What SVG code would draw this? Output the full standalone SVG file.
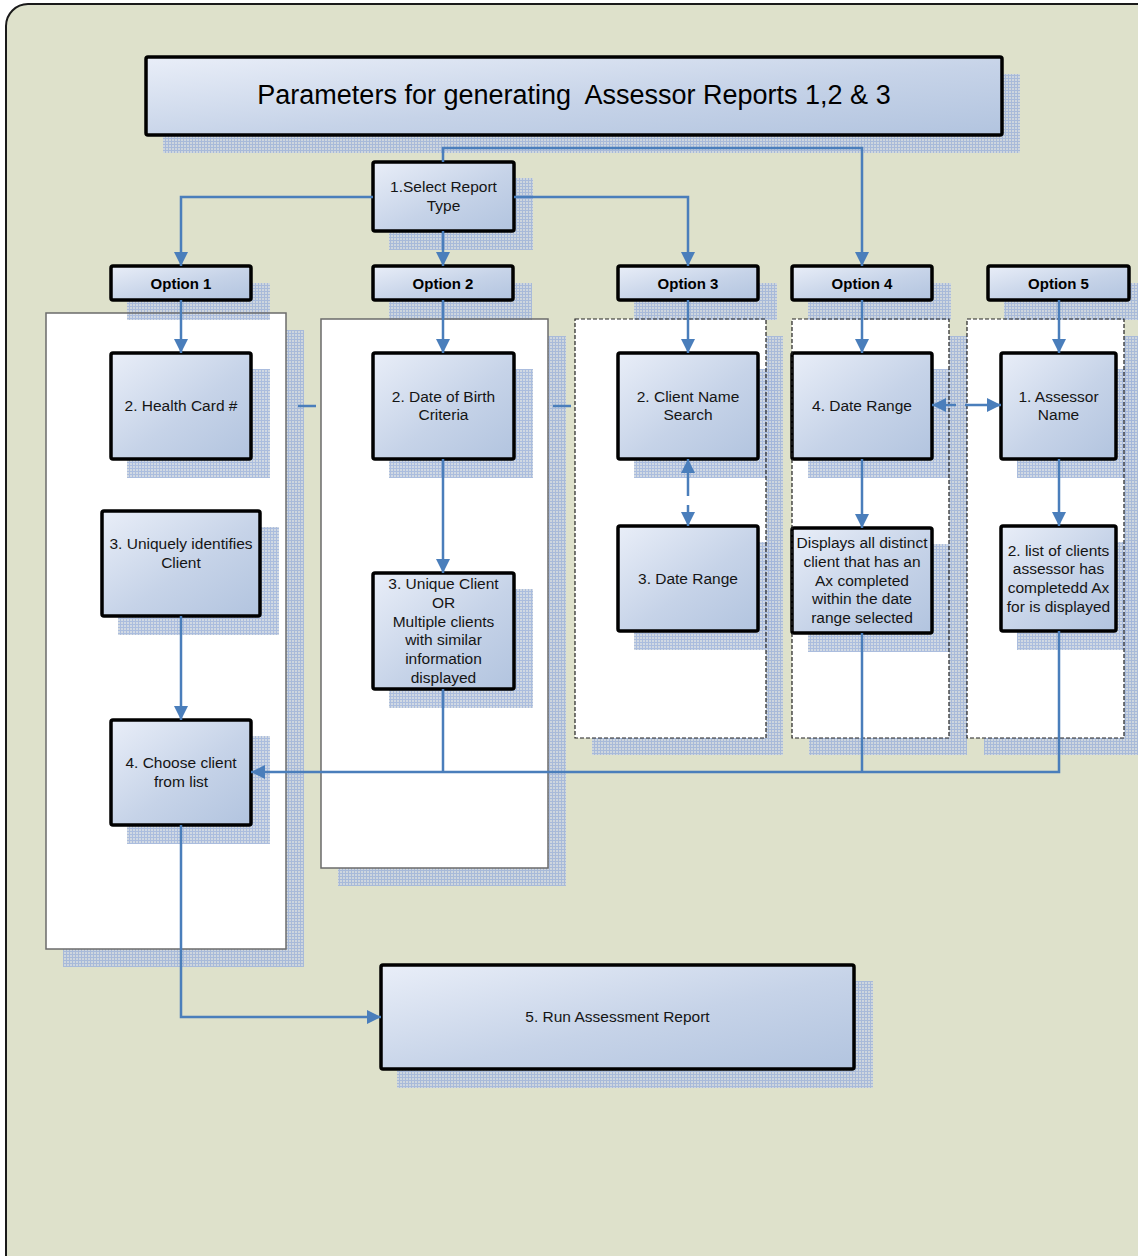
<svg xmlns="http://www.w3.org/2000/svg" width="1138" height="1256" viewBox="0 0 1138 1256">
<defs>
<linearGradient id="nodeGrad" x1="0" y1="0" x2="1" y2="1">
<stop offset="0" stop-color="#e9eef8"/>
<stop offset="0.55" stop-color="#c6d3e8"/>
<stop offset="1" stop-color="#b2c4df"/>
</linearGradient>
<pattern id="mesh" width="3" height="3" patternUnits="userSpaceOnUse">
<rect width="3" height="3" fill="#ccd5e0"/>
<path d="M0,0.5H3M0.5,0V3" stroke="#a2b6da" stroke-width="1"/>
</pattern>
<marker id="arr" markerUnits="userSpaceOnUse" markerWidth="14" markerHeight="14" refX="14" refY="7" orient="auto-start-reverse">
<path d="M0,0 L14,7 L0,14 z" fill="#4a7ebb"/>
</marker>
<style>
.node{fill:url(#nodeGrad);stroke:#000;stroke-width:3.5;}
.shadow{fill:url(#mesh);opacity:0.9;}
.pfill{fill:#fff;}
.panel{fill:none;stroke:#6b6b6b;stroke-width:1.5;}
.dpanel{fill:none;stroke:#222;stroke-width:1.2;stroke-dasharray:4 2;}
.t{font-family:"Liberation Sans",Arial,sans-serif;font-size:15.5px;fill:#151515;text-anchor:middle;}
.opt{font-family:"Liberation Sans",Arial,sans-serif;font-size:15px;font-weight:bold;fill:#000;text-anchor:middle;}
.title{font-family:"Liberation Sans",Arial,sans-serif;font-size:27px;fill:#000;text-anchor:middle;white-space:pre;}
.c{fill:none;stroke:#4a7ebb;stroke-width:2.5;}
</style>
</defs>

<g id="background">
<rect x="6" y="4" width="1160" height="1280" rx="22" fill="#dee1cb" stroke="#1a1a1a" stroke-width="2"/>
</g>

<g id="panels">
<rect class="shadow" x="63" y="330" width="241" height="637"/>
<rect class="pfill" x="46" y="313" width="240" height="636"/>
<rect class="shadow" x="338" y="336" width="228" height="550"/>
<rect class="pfill" x="321" y="319" width="227" height="549"/>
<rect class="shadow" x="592" y="336" width="191" height="419"/>
<rect class="pfill" x="575" y="319" width="191" height="419"/>
<rect class="shadow" x="809" y="336" width="158" height="419"/>
<rect class="pfill" x="792" y="319" width="157" height="419"/>
<rect class="shadow" x="984" y="336" width="160" height="419"/>
<rect class="pfill" x="967" y="319" width="157" height="419"/>
</g>

<g id="title">
<rect class="shadow" x="163" y="74" width="857" height="79"/>
<rect class="node" x="146" y="57" width="856" height="78" rx="2"/>
<text class="title" x="574" y="104" xml:space="preserve">Parameters for generating  Assessor Reports 1,2 &amp; 3</text>
</g>

<g id="select-report">
<rect class="shadow" x="389" y="178" width="144" height="72"/>
<rect class="node" x="373" y="162" width="141" height="69" rx="2"/>
<text class="t" x="443.5" y="191.5">1.Select Report</text>
<text class="t" x="443.5" y="210.5">Type</text>
</g>

<g id="option1">
<rect class="shadow" x="127" y="283" width="143" height="37"/>
<rect class="node" x="111" y="266" width="140" height="34" rx="2"/>
<text class="opt" x="181" y="288.5">Option 1</text>
</g>
<g id="option2">
<rect class="shadow" x="389" y="283" width="143" height="37"/>
<rect class="node" x="373" y="266" width="140" height="34" rx="2"/>
<text class="opt" x="443" y="288.5">Option 2</text>
</g>
<g id="option3">
<rect class="shadow" x="634" y="283" width="143" height="37"/>
<rect class="node" x="618" y="266" width="140" height="34" rx="2"/>
<text class="opt" x="688" y="288.5">Option 3</text>
</g>
<g id="option4">
<rect class="shadow" x="808" y="283" width="143" height="37"/>
<rect class="node" x="792" y="266" width="140" height="34" rx="2"/>
<text class="opt" x="862" y="288.5">Option 4</text>
</g>
<g id="option5">
<rect class="shadow" x="1004" y="283" width="144" height="37"/>
<rect class="node" x="988" y="266" width="141" height="34" rx="2"/>
<text class="opt" x="1058.5" y="288.5">Option 5</text>
</g>

<g id="health-card">
<rect class="shadow" x="127" y="369" width="143" height="109"/>
<rect class="node" x="111" y="353" width="140" height="106" rx="2"/>
<text class="t" x="181" y="410.5">2. Health Card #</text>
</g>
<g id="uniquely-identifies">
<rect class="shadow" x="118" y="527" width="161" height="108"/>
<rect class="node" x="102" y="511" width="158" height="105" rx="2"/>
<text class="t" x="181" y="548.5">3. Uniquely identifies</text>
<text class="t" x="181" y="567.5">Client</text>
</g>
<g id="choose-client">
<rect class="shadow" x="127" y="736" width="143" height="108"/>
<rect class="node" x="111" y="720" width="140" height="105" rx="2"/>
<text class="t" x="181" y="767.5">4. Choose client</text>
<text class="t" x="181" y="786.5">from list</text>
</g>

<g id="date-of-birth">
<rect class="shadow" x="389" y="369" width="144" height="109"/>
<rect class="node" x="373" y="353" width="141" height="106" rx="2"/>
<text class="t" x="443.5" y="401.5">2. Date of Birth</text>
<text class="t" x="443.5" y="419.5">Criteria</text>
</g>
<g id="unique-client">
<rect class="shadow" x="389" y="589" width="144" height="119"/>
<rect class="node" x="373" y="573" width="141" height="116" rx="2"/>
<text class="t" x="443.5" y="589">3. Unique Client</text>
<text class="t" x="443.5" y="607.5">OR</text>
<text class="t" x="443.5" y="626.5">Multiple clients</text>
<text class="t" x="443.5" y="644.5">with similar</text>
<text class="t" x="443.5" y="663.5">information</text>
<text class="t" x="443.5" y="682.5">displayed</text>
</g>

<g id="client-name-search">
<rect class="shadow" x="634" y="369" width="143" height="109"/>
<rect class="node" x="618" y="353" width="140" height="106" rx="2"/>
<text class="t" x="688" y="401.5">2. Client Name</text>
<text class="t" x="688" y="419.5">Search</text>
</g>
<g id="date-range-3">
<rect class="shadow" x="634" y="542" width="143" height="108"/>
<rect class="node" x="618" y="526" width="140" height="105" rx="2"/>
<text class="t" x="688" y="583.5">3. Date Range</text>
</g>

<g id="date-range-4">
<rect class="shadow" x="808" y="369" width="143" height="109"/>
<rect class="node" x="792" y="353" width="140" height="106" rx="2"/>
<text class="t" x="862" y="410.5">4. Date Range</text>
</g>
<g id="displays-distinct">
<rect class="shadow" x="808" y="544" width="143" height="108"/>
<rect class="node" x="792" y="528" width="140" height="105" rx="2"/>
<text class="t" x="862" y="547.5">Displays all distinct</text>
<text class="t" x="862" y="566.5">client that has an</text>
<text class="t" x="862" y="585.5">Ax completed</text>
<text class="t" x="862" y="603.5">within the date</text>
<text class="t" x="862" y="622.5">range selected</text>
</g>

<g id="assessor-name">
<rect class="shadow" x="1017" y="369" width="118" height="109"/>
<rect class="node" x="1001" y="353" width="115" height="106" rx="2"/>
<text class="t" x="1058.5" y="401.5">1. Assessor</text>
<text class="t" x="1058.5" y="419.5">Name</text>
</g>
<g id="list-of-clients">
<rect class="shadow" x="1017" y="542" width="118" height="108"/>
<rect class="node" x="1001" y="526" width="115" height="105" rx="2"/>
<text class="t" x="1058.5" y="555.5">2. list of clients</text>
<text class="t" x="1058.5" y="573.5">assessor has</text>
<text class="t" x="1058.5" y="592.5">completedd Ax</text>
<text class="t" x="1058.5" y="611.5">for is displayed</text>
</g>

<g id="run-report">
<rect class="shadow" x="397" y="981" width="476" height="107"/>
<rect class="node" x="381" y="965" width="473" height="104" rx="2"/>
<text class="t" x="617.5" y="1021.5">5. Run Assessment Report</text>
</g>

<g id="panel-borders">
<rect class="panel" x="46" y="313" width="240" height="636"/>
<rect class="panel" x="321" y="319" width="227" height="549"/>
<rect class="dpanel" x="575" y="319" width="191" height="419"/>
<rect class="dpanel" x="792" y="319" width="157" height="419"/>
<rect class="dpanel" x="967" y="319" width="157" height="419"/>
</g>

<g id="connectors">
<path class="c" d="M443,162 V148 H862 V266" marker-end="url(#arr)"/>
<path class="c" d="M373,197 H181 V266" marker-end="url(#arr)"/>
<path class="c" d="M514,197 H688 V266" marker-end="url(#arr)"/>
<path class="c" d="M443,231 V266" marker-end="url(#arr)"/>
<path class="c" d="M181,300 V353" marker-end="url(#arr)"/>
<path class="c" d="M443,300 V353" marker-end="url(#arr)"/>
<path class="c" d="M688,300 V353" marker-end="url(#arr)"/>
<path class="c" d="M862,300 V353" marker-end="url(#arr)"/>
<path class="c" d="M1059,300 V353" marker-end="url(#arr)"/>
<path class="c" d="M688,496 V459" marker-end="url(#arr)"/>
<path class="c" d="M688,505 V526" marker-end="url(#arr)"/>
<path class="c" d="M956,405 H932" marker-end="url(#arr)"/>
<path class="c" d="M965,405 H1001" marker-end="url(#arr)"/>
<path class="c" d="M443,459 V573" marker-end="url(#arr)"/>
<path class="c" d="M862,459 V528" marker-end="url(#arr)"/>
<path class="c" d="M1059,459 V526" marker-end="url(#arr)"/>
<path class="c" d="M181,616 V720" marker-end="url(#arr)"/>
<path class="c" d="M443,689 V772"/>
<path class="c" d="M862,633 V772"/>
<path class="c" d="M1059,631 V772 H251" marker-end="url(#arr)"/>
<path class="c" d="M181,825 V1017 H381" marker-end="url(#arr)"/>
<path class="c" d="M298,406 H316"/>
<path class="c" d="M553,406 H571"/>
</g>
</svg>
